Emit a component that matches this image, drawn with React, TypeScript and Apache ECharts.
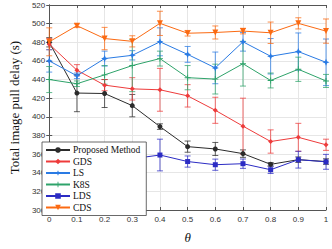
import React, { useEffect, useRef } from "react";
import * as echarts from "echarts";

const thetas = [0, 0.1, 0.2, 0.3, 0.4, 0.5, 0.6, 0.7, 0.8, 0.9, 1];
const yTicks = [300, 320, 340, 360, 380, 400, 420, 440, 460, 480, 500, 520];

const proposed = [480, 425.5, 425, 412, 389.5, 368, 365.5, 360.5, 349, 354, 352];
const proposedErr = [5, 20, 15, 12, 3, 6, 7, 4, 2, 3, 3];
const gds = [478, 450, 434, 430, 429, 422.5, 407, 390, 373.5, 378, 370];
const gdsErr = [6, 6, 6, 12, 23, 12, 14, 30, 12.5, 15, 6];
const ls = [460, 444, 462.5, 466, 480.5, 467, 452.5, 480.5, 465, 470, 458.5];
const lsErr = [12, 3, 8, 5, 15, 8.5, 17, 10, 19, 20, 25];
const k8s = [440, 435.5, 445, 455, 462.5, 442, 440.5, 457, 439, 451, 438.5];
const k8sErr = [14, 3, 10, 28, 8, 13, 16, 24, 8, 13, 7];
const lds = [347, 350, 352, 355, 359, 352, 348.6, 349.7, 343.2, 354, 351.7];
const ldsErr = [10, 5, 5, 5, 17, 6, 6, 5, 4, 9, 8];
const cds = [480.5, 497.8, 484, 481, 500.3, 489.7, 490.5, 492, 490.2, 500.3, 492];
const cdsErr = [15, 2, 12, 6, 13, 3, 7, 3, 11.5, 6, 13];

const names = ["Proposed Method", "GDS", "LS", "K8S", "LDS", "CDS"];
const values = [proposed, gds, ls, k8s, lds, cds];
const errors = [proposedErr, gdsErr, lsErr, k8sErr, ldsErr, cdsErr];
const colors = ["#2b2b2b", "#ee3b3b", "#2a7be4", "#2ea36a", "#2c2cc4", "#fb6a12"];
const symbols = [
  "circle",
  "diamond",
  "path://M0,-1 L0.3,-0.3 L1,0 L0.3,0.3 L0,1 L-0.3,0.3 L-1,0 L-0.3,-0.3Z",
  "path://M-0.15,-1 H0.15 V-0.15 H1 V0.15 H0.15 V1 H-0.15 V0.15 H-1 V-0.15 H-0.15Z",
  "rect",
  "path://M0,0 L2,0 L1,1.8Z",
];
const symbolSizes = [5, 5, 7, 6, 5, 6];

export default function App() {
  const ref = useRef<HTMLDivElement>(null);
  useEffect(() => {
    if (!ref.current) return;
    const chart = echarts.init(ref.current, null, { renderer: "svg" });
    const lineSeries: any[] = names.map((n, i) => ({
      name: n,
      type: "line",
      data: thetas.map((t, j) => [t, values[i][j]]),
      symbol: symbols[i],
      symbolSize: symbolSizes[i],
      showAllSymbol: true,
      lineStyle: { color: colors[i], width: 1 },
      itemStyle: { color: colors[i] },
      z: 3,
    }));
    const errSeries: any[] = names.map((n, i) => ({
      name: n + "-err",
      type: "custom",
      data: thetas.map((t, j) => [t, values[i][j] - errors[i][j], values[i][j] + errors[i][j]]),
      z: 2,
      renderItem: (params: any, api: any) => {
        const x = api.value(0);
        const lo = api.value(1);
        const hi = api.value(2);
        const top = api.coord([x, hi]);
        const bot = api.coord([x, lo]);
        const w = 3;
        const style = { stroke: colors[i], lineWidth: 1, opacity: 0.75 };
        return {
          type: "group",
          children: [
            { type: "line", shape: { x1: top[0], y1: top[1], x2: bot[0], y2: bot[1] }, style },
            { type: "line", shape: { x1: top[0] - w, y1: top[1], x2: top[0] + w, y2: top[1] }, style },
            { type: "line", shape: { x1: bot[0] - w, y1: bot[1], x2: bot[0] + w, y2: bot[1] }, style },
          ],
        };
      },
    }));
    const axisLabelStyle = { fontFamily: "Liberation Sans", fontSize: 8, color: "#333" };
    chart.setOption({
      animation: false,
      backgroundColor: "#fff",
      grid: { left: 33.5, right: 6, top: 5, bottom: 30 },
      legend: {
        data: names,
        orient: "vertical",
        left: 42,
        top: 142,
        itemWidth: 24,
        itemHeight: 7,
        itemGap: 1.5,
        padding: [3, 6, 3, 3],
        backgroundColor: "#fff",
        borderColor: "#444",
        borderWidth: 0.8,
        borderRadius: 0,
        textStyle: {
          fontFamily: "Liberation Serif",
          fontSize: 9.5,
          lineHeight: 10,
          color: "#111",
          padding: [0, 0, 0, -2],
        },
      },
      xAxis: [
        {
          type: "value",
          min: 0,
          max: 1,
          interval: 0.1,
          name: "θ",
          nameLocation: "middle",
          nameGap: 21,
          nameTextStyle: { fontFamily: "Liberation Serif", fontStyle: "italic", fontSize: 13, color: "#111" },
          axisLine: { show: true, lineStyle: { color: "#555", width: 1 } },
          axisTick: { show: true, inside: true, length: 3, lineStyle: { color: "#555" } },
          axisLabel: {
            ...axisLabelStyle,
            margin: 5,
            formatter: (v: number) => (Math.round(v * 10) / 10).toString(),
          },
          splitLine: { show: true, lineStyle: { color: "#e6e6e6", width: 1 } },
        },
        {
          type: "value",
          position: "top",
          min: 0,
          max: 1,
          interval: 0.1,
          axisLine: { show: true, lineStyle: { color: "#555", width: 1 } },
          axisTick: { show: true, inside: true, length: 3, lineStyle: { color: "#555" } },
          axisLabel: { show: false },
          splitLine: { show: false },
        },
      ],
      yAxis: [
        {
          type: "value",
          min: yTicks[0],
          max: yTicks[yTicks.length - 1],
          interval: 20,
          name: "Total image pull delay (s)",
          nameLocation: "middle",
          nameGap: 23,
          nameTextStyle: { fontFamily: "Liberation Serif", fontSize: 13, color: "#111" },
          axisLine: { show: true, lineStyle: { color: "#555", width: 1 } },
          axisTick: { show: true, inside: true, length: 3, lineStyle: { color: "#555" } },
          axisLabel: { ...axisLabelStyle, margin: 4 },
          splitLine: { show: true, lineStyle: { color: "#e6e6e6", width: 1 } },
        },
        {
          type: "value",
          position: "right",
          min: yTicks[0],
          max: yTicks[yTicks.length - 1],
          interval: 20,
          axisLine: { show: true, lineStyle: { color: "#555", width: 1 } },
          axisTick: { show: true, inside: true, length: 3, lineStyle: { color: "#555" } },
          axisLabel: { show: false },
          splitLine: { show: false },
        },
      ],
      series: [...errSeries, ...lineSeries],
    });
    return () => chart.dispose();
  }, []);
  return (
    <div
      ref={ref}
      style={{ position: "fixed", left: 0, top: 0, width: 332, height: 249, background: "#fff" }}
    />
  );
}
